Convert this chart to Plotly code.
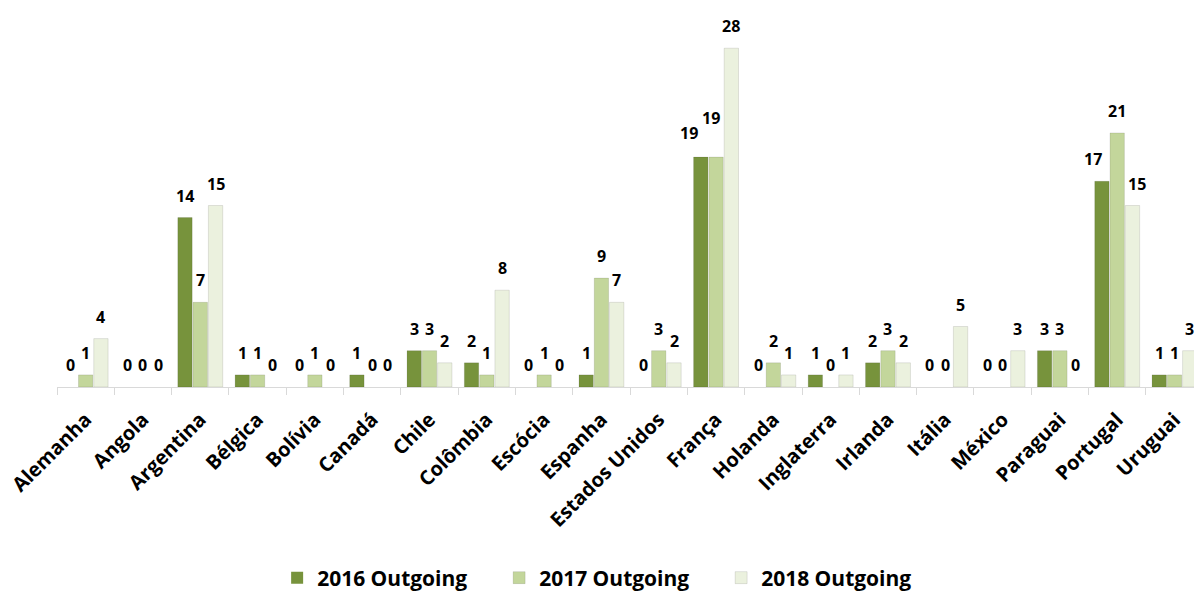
import plotly.graph_objects as go

# Countries and outgoing counts per year
countries = [
    "Alemanha", "Angola", "Argentina", "Bélgica", "Bolívia", "Canadá", "Chile",
    "Colômbia", "Escócia", "Espanha", "Estados Unidos", "França", "Holanda",
    "Inglaterra", "Irlanda", "Itália", "México", "Paraguai", "Portugal", "Uruguai",
]
out_2016 = [0, 0, 14, 1, 0, 1, 3, 2, 0, 1, 0, 19, 0, 1, 2, 0, 0, 3, 17, 1]
out_2017 = [1, 0, 7, 1, 1, 0, 3, 1, 1, 9, 3, 19, 2, 0, 3, 0, 0, 3, 21, 1]
out_2018 = [4, 0, 15, 0, 0, 0, 2, 8, 0, 7, 2, 28, 1, 1, 2, 5, 3, 0, 15, 3]

series_names = ["2016 Outgoing", "2017 Outgoing", "2018 Outgoing"]
series_values = [out_2016, out_2017, out_2018]
colors = ["#77933C", "#C3D69B", "#EBF1DE"]

W, H = 1194, 591
M_L, M_R, M_T, M_B = 57, 0, 24, 204
X_RANGE = [-0.5, 19.34]
BARGAP = 0.2
FONT = "Open Sans"

fig = go.Figure()
for name, vals, col in zip(series_names, series_values, colors):
    fig.add_bar(
        x=countries, y=vals, name=name,
        marker=dict(
            color=col,
            line=dict(color="rgba(0,0,0,0.10)",
                      width=[1 if v > 0 else 0 for v in vals]),
        ),
    )

# Value labels above each bar, offset horizontally to their slot in the group
px_per_cat = (W - M_L - M_R) / (X_RANGE[1] - X_RANGE[0])
slot = px_per_cat * (1 - BARGAP) / 3
# small nudges where neighbouring labels would collide
nudges = {("França", 0): (-12, 2), ("França", 1): (-5, 17),
          ("Portugal", 0): (-9, 0), ("Portugal", 2): (5, 0)}
for s, vals in enumerate(series_values):
    for c, v in zip(countries, vals):
        dx, dy = nudges.get((c, s), (0, 0))
        fig.add_annotation(
            x=c, y=v, text=str(v), showarrow=False,
            xshift=(s - 1) * slot + dx, yshift=22 + dy,
            yanchor="middle",
            font=dict(family=FONT, size=16, color="#000000", weight="bold"),
        )

fig.update_layout(
    width=W, height=H,
    margin=dict(l=M_L, r=M_R, t=M_T, b=M_B),
    paper_bgcolor="white", plot_bgcolor="white",
    barmode="group", bargap=BARGAP, bargroupgap=0.06,
    showlegend=True,
    legend=dict(
        orientation="h", xref="container", yref="container",
        x=0.511, xanchor="center", y=0.022, yanchor="middle",
        font=dict(family=FONT, size=21, color="#000000", weight="bold"),
        entrywidth=177, itemwidth=30, traceorder="normal",
    ),
    xaxis=dict(
        range=X_RANGE, showline=True, linecolor="#D9D9D9", linewidth=1,
        ticks="outside", tickson="boundaries", ticklen=7, tickcolor="#D9D9D9",
        tickangle=-45, showgrid=False, zeroline=False, ticklabelstandoff=12,
        tickfont=dict(family=FONT, size=20, color="#000000", weight="bold"),
    ),
    yaxis=dict(range=[0, 30], visible=False, showgrid=False, zeroline=False),
)

fig.write_html("out.html")
